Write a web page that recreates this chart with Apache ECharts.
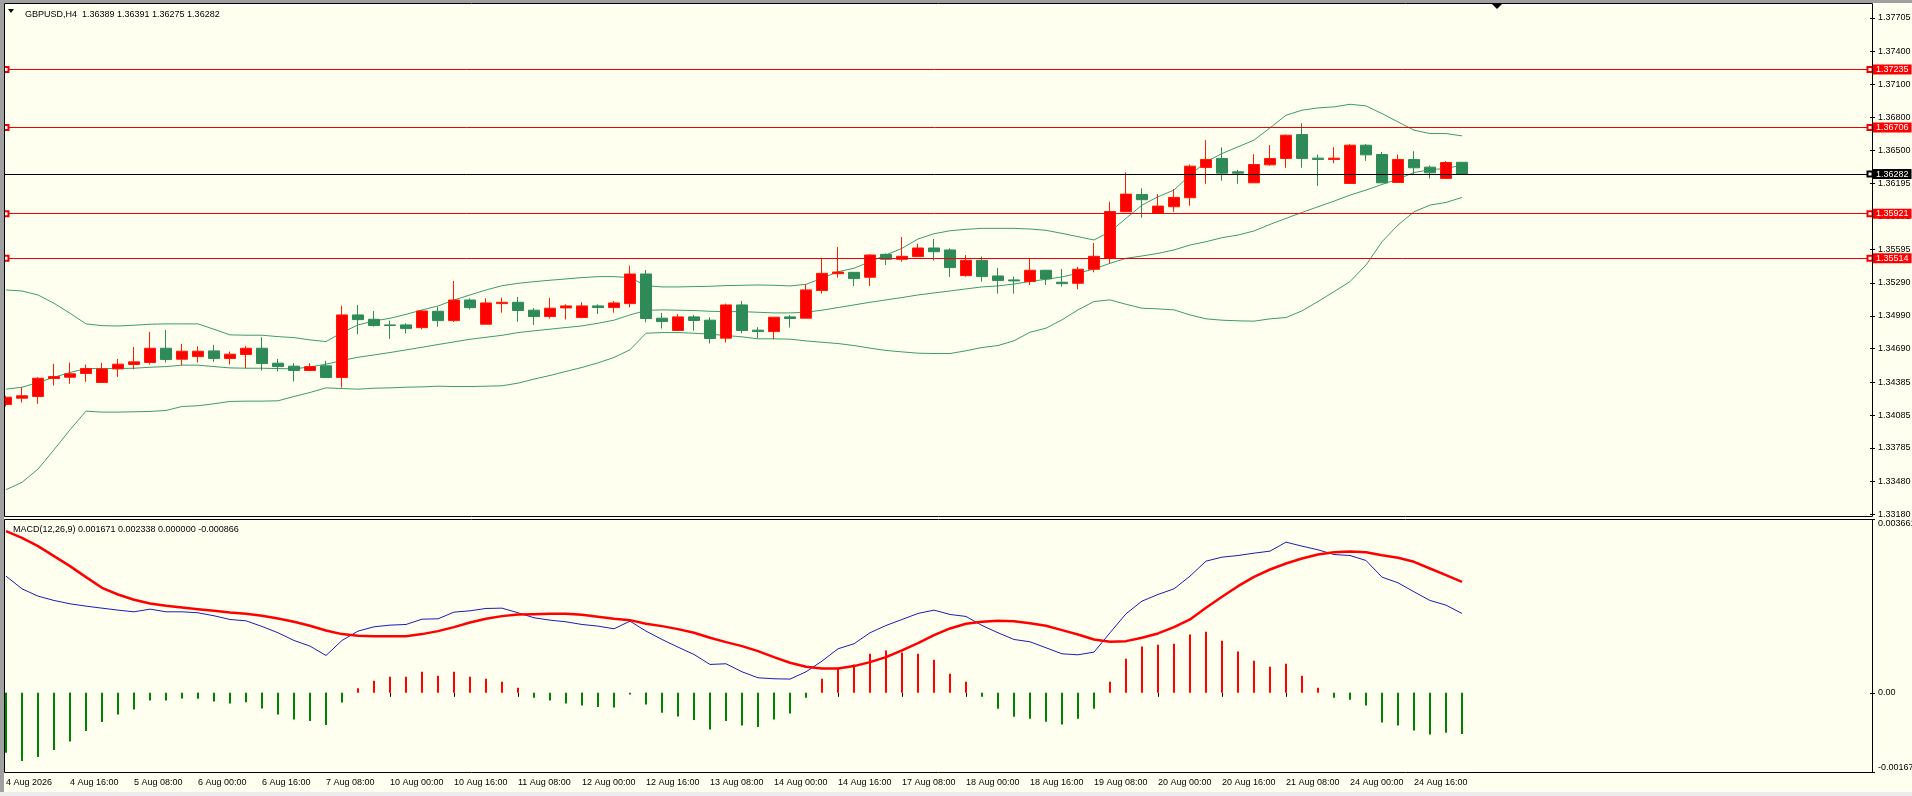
<!DOCTYPE html>
<html>
<head>
<meta charset="utf-8">
<title>GBPUSD,H4</title>
<script src="https://cdn.jsdelivr.net/npm/echarts@6/dist/echarts.min.js"></script>
<style>
html,body{margin:0;padding:0;background:#FFFFF0;}
#main{width:1912px;height:796px;}
</style>
</head>
<body>
<div id="main"></div>
<script>
// bar times (H4)
var days = ['4 Aug','5 Aug','6 Aug','7 Aug','10 Aug','11 Aug','12 Aug','13 Aug','14 Aug',
            '17 Aug','18 Aug','19 Aug','20 Aug','21 Aug','24 Aug','25 Aug'];
var hours = ['00:00','04:00','08:00','12:00','16:00','20:00'];
var lastDayBars = 2;
var firstLabel = '4 Aug 2026';
var emptySlots = 25;   // chart shift on the right

var opens = [1.34182,1.34239,1.34254,1.34418,1.34430,1.34464,1.34382,1.34506,1.34546,1.34564,
1.34694,1.34594,1.34618,1.34670,1.34600,1.34637,1.34694,1.34558,1.34531,1.34491,
1.34534,1.34427,1.34998,1.34958,1.34907,1.34907,1.34882,1.35031,1.34946,1.35134,
1.34913,1.35101,1.35113,1.35041,1.34983,1.35062,1.34974,1.35080,1.35065,1.35101,
1.35371,1.34968,1.34856,1.34980,1.34950,1.34786,1.35089,1.34859,1.34846,1.34980,
1.34968,1.35220,1.35374,1.35386,1.35341,1.35550,1.35505,1.35529,1.35608,1.35590,
1.35356,1.35496,1.35353,1.35317,1.35302,1.35405,1.35296,1.35286,1.35414,1.35514,
1.35938,1.36096,1.35926,1.35984,1.36066,1.36342,1.36424,1.36302,1.36202,1.36366,
1.36424,1.36642,1.36427,1.36415,1.36196,1.36545,1.36460,1.36205,1.36415,1.36345,
1.36242,1.36389];
var highs = [1.34261,1.34339,1.34430,1.34552,1.34564,1.34546,1.34561,1.34597,1.34706,1.34843,
1.34861,1.34734,1.34712,1.34725,1.34664,1.34716,1.34794,1.34597,1.34558,1.34558,
1.34579,1.35082,1.35089,1.35034,1.34946,1.34922,1.35043,1.35070,1.35307,1.35149,
1.35149,1.35156,1.35162,1.35059,1.35153,1.35095,1.35113,1.35095,1.35126,1.35447,
1.35408,1.35016,1.35004,1.34998,1.34977,1.35101,1.35126,1.34886,1.34977,1.34998,
1.35277,1.35514,1.35617,1.35386,1.35550,1.35559,1.35708,1.35647,1.35690,1.35605,
1.35544,1.35529,1.35426,1.35347,1.35514,1.35408,1.35417,1.35435,1.35653,1.36029,
1.36296,1.36151,1.36099,1.36145,1.36369,1.36591,1.36524,1.36321,1.36463,1.36545,
1.36642,1.36745,1.36460,1.36527,1.36554,1.36557,1.36484,1.36460,1.36490,1.36360,
1.36399,1.36391];
var lows = [1.34163,1.34200,1.34188,1.34354,1.34370,1.34388,1.34382,1.34433,1.34503,1.34546,
1.34564,1.34540,1.34564,1.34570,1.34546,1.34512,1.34491,1.34482,1.34391,1.34485,
1.34427,1.34336,1.34822,1.34891,1.34779,1.34828,1.34867,1.34891,1.34934,1.35049,
1.34913,1.35019,1.34937,1.34907,1.34965,1.34956,1.34974,1.35007,1.35019,1.35068,
1.34931,1.34874,1.34856,1.34853,1.34737,1.34746,1.34831,1.34786,1.34777,1.34883,
1.34968,1.35192,1.35338,1.35262,1.35262,1.35453,1.35483,1.35529,1.35493,1.35344,
1.35347,1.35301,1.35192,1.35192,1.35271,1.35271,1.35256,1.35232,1.35386,1.35468,
1.35938,1.35884,1.35926,1.35938,1.35993,1.36193,1.36221,1.36193,1.36202,1.36357,
1.36339,1.36339,1.36175,1.36381,1.36196,1.36402,1.36202,1.36205,1.36284,1.36242,
1.36242,1.36275];
var closes = [1.34248,1.34261,1.34421,1.34436,1.34461,1.34509,1.34506,1.34549,1.34570,1.34694,
1.34591,1.34667,1.34667,1.34600,1.34640,1.34694,1.34555,1.34527,1.34491,1.34527,
1.34427,1.34998,1.34955,1.34901,1.34901,1.34873,1.35034,1.34946,1.35134,1.35064,
1.35107,1.35113,1.35038,1.34983,1.35059,1.35080,1.35080,1.35065,1.35107,1.35371,
1.34965,1.34937,1.34980,1.34947,1.34783,1.35089,1.34856,1.34846,1.34977,1.34965,
1.35226,1.35377,1.35389,1.35329,1.35544,1.35505,1.35532,1.35608,1.35574,1.35429,
1.35496,1.35347,1.35311,1.35308,1.35405,1.35326,1.35283,1.35414,1.35532,1.35941,
1.36099,1.36048,1.35990,1.36069,1.36354,1.36415,1.36290,1.36290,1.36369,1.36424,
1.36636,1.36424,1.36415,1.36427,1.36545,1.36457,1.36202,1.36415,1.36339,1.36293,
1.36387,1.36282];

// Bollinger bands as drawn
var bbUpper = [1.35225,1.35216,1.35180,1.35104,1.35013,1.34916,1.34900,1.34897,1.34904,1.34913,
1.34916,1.34916,1.34916,1.34867,1.34816,1.34813,1.34813,1.34800,1.34791,1.34770,
1.34755,1.34837,1.34907,1.34943,1.34967,1.35003,1.35043,1.35079,1.35134,1.35180,
1.35225,1.35264,1.35286,1.35301,1.35314,1.35326,1.35338,1.35347,1.35347,1.35338,
1.35265,1.35253,1.35253,1.35256,1.35259,1.35265,1.35268,1.35271,1.35268,1.35262,
1.35277,1.35332,1.35392,1.35423,1.35483,1.35544,1.35605,1.35690,1.35738,1.35765,
1.35778,1.35787,1.35787,1.35787,1.35781,1.35769,1.35741,1.35711,1.35681,1.35756,
1.35878,1.35999,1.36075,1.36136,1.36272,1.36393,1.36469,1.36530,1.36591,1.36703,
1.36818,1.36864,1.36885,1.36894,1.36918,1.36903,1.36833,1.36757,1.36682,1.36651,
1.36651,1.36630];
var bbMiddle = [1.34321,1.34339,1.34382,1.34430,1.34473,1.34509,1.34509,1.34509,1.34512,1.34521,
1.34527,1.34540,1.34540,1.34527,1.34515,1.34512,1.34512,1.34509,1.34506,1.34524,
1.34549,1.34582,1.34612,1.34633,1.34655,1.34679,1.34703,1.34728,1.34752,1.34776,
1.34794,1.34812,1.34837,1.34853,1.34868,1.34883,1.34898,1.34922,1.34950,1.34998,
1.35038,1.35044,1.35041,1.35038,1.35031,1.35028,1.35028,1.35022,1.35016,1.35016,
1.35022,1.35041,1.35065,1.35089,1.35113,1.35135,1.35156,1.35180,1.35198,1.35216,
1.35235,1.35253,1.35262,1.35280,1.35302,1.35323,1.35344,1.35377,1.35417,1.35468,
1.35514,1.35535,1.35559,1.35590,1.35635,1.35665,1.35702,1.35726,1.35763,1.35823,
1.35878,1.35932,1.35984,1.36035,1.36090,1.36136,1.36187,1.36236,1.36296,1.36321,
1.36333,1.36363];
var bbLower = [1.33405,1.33472,1.33593,1.33769,1.33951,1.34121,1.34112,1.34112,1.34115,1.34118,
1.34127,1.34163,1.34170,1.34188,1.34209,1.34212,1.34212,1.34215,1.34254,1.34291,
1.34333,1.34327,1.34321,1.34330,1.34333,1.34339,1.34342,1.34348,1.34345,1.34345,
1.34348,1.34352,1.34376,1.34413,1.34446,1.34483,1.34519,1.34561,1.34610,1.34680,
1.34831,1.34837,1.34837,1.34831,1.34822,1.34810,1.34798,1.34780,1.34780,1.34777,
1.34761,1.34749,1.34737,1.34719,1.34695,1.34674,1.34661,1.34649,1.34646,1.34646,
1.34671,1.34701,1.34719,1.34762,1.34840,1.34877,1.34953,1.35044,1.35120,1.35135,
1.35095,1.35059,1.35053,1.35044,1.34998,1.34962,1.34950,1.34944,1.34941,1.34962,
1.34974,1.35035,1.35120,1.35210,1.35302,1.35453,1.35665,1.35817,1.35938,1.35999,
1.36023,1.36069];

// MACD(12,26,9) window
var macdMain = [0.002457,0.002190,0.002036,0.001945,0.001874,0.001825,0.001783,0.001741,0.001706,0.001762,
0.001706,0.001706,0.001685,0.001622,0.001544,0.001516,0.001397,0.001264,0.001102,0.000983,
0.000786,0.001102,0.001299,0.001390,0.001425,0.001439,0.001551,0.001558,0.001699,0.001727,
0.001776,0.001783,0.001685,0.001580,0.001530,0.001495,0.001439,0.001404,0.001348,0.001509,
0.001299,0.001123,0.000962,0.000807,0.000597,0.000611,0.000442,0.000316,0.000295,0.000288,
0.000442,0.000667,0.000927,0.001032,0.001264,0.001418,0.001544,0.001671,0.001741,0.001650,
0.001608,0.001418,0.001264,0.001123,0.001074,0.000948,0.000821,0.000800,0.000856,0.001264,
0.001664,0.001931,0.002071,0.002190,0.002457,0.002773,0.002857,0.002892,0.002941,0.002984,
0.003173,0.003089,0.003012,0.002913,0.002892,0.002787,0.002436,0.002317,0.002127,0.001945,
0.001846,0.001671];
var macdSignal = [0.003405,0.003264,0.003089,0.002878,0.002668,0.002436,0.002211,0.002071,0.001959,0.001881,
0.001832,0.001797,0.001762,0.001727,0.001692,0.001664,0.001622,0.001565,0.001495,0.001411,
0.001313,0.001236,0.001200,0.001193,0.001193,0.001193,0.001236,0.001299,0.001383,0.001481,
0.001558,0.001615,0.001650,0.001657,0.001664,0.001664,0.001643,0.001601,0.001558,0.001530,
0.001453,0.001404,0.001341,0.001264,0.001158,0.001067,0.000983,0.000878,0.000751,0.000632,
0.000548,0.000512,0.000512,0.000562,0.000646,0.000751,0.000892,0.001046,0.001214,0.001355,
0.001453,0.001495,0.001516,0.001509,0.001467,0.001411,0.001320,0.001229,0.001123,0.001074,
0.001088,0.001158,0.001250,0.001383,0.001544,0.001790,0.002022,0.002246,0.002443,0.002597,
0.002724,0.002829,0.002913,0.002962,0.002976,0.002962,0.002899,0.002843,0.002759,0.002618,
0.002478,0.002338];
var macdHist = [-0.001264,-0.001439,-0.001355,-0.001207,-0.001025,-0.000807,-0.000618,-0.000456,-0.000351,-0.000161,
-0.000161,-0.000119,-0.000126,-0.000183,-0.000225,-0.000197,-0.000330,-0.000456,-0.000562,-0.000597,
-0.000681,-0.000204,0.000098,0.000253,0.000337,0.000337,0.000442,0.000358,0.000442,0.000337,
0.000295,0.000232,0.000105,-0.000105,-0.000161,-0.000225,-0.000267,-0.000302,-0.000309,-0.000035,
-0.000246,-0.000421,-0.000498,-0.000576,-0.000772,-0.000597,-0.000688,-0.000723,-0.000562,-0.000435,
-0.000105,0.000295,0.000527,0.000597,0.000821,0.000892,0.000849,0.000821,0.000695,0.000400,
0.000232,-0.000084,-0.000337,-0.000505,-0.000548,-0.000611,-0.000667,-0.000548,-0.000337,0.000232,
0.000716,0.000976,0.001011,0.001032,0.001229,0.001285,0.001095,0.000870,0.000674,0.000548,
0.000611,0.000358,0.000105,-0.000105,-0.000147,-0.000267,-0.000625,-0.000688,-0.000793,-0.000878,
-0.000842,-0.000866];

var levels = [1.37235, 1.36706, 1.35921, 1.35514];
var priceTicks = [1.37705,1.37400,1.37100,1.36800,1.36500,1.36195,1.35895,1.35595,
                  1.35290,1.34990,1.34690,1.34385,1.34085,1.33785,1.33480,1.33180];
var priceMin = 1.33165, priceMax = 1.37832;
var macdTicks = [-0.00167, 0, 0.003661];
var macdTickText = ['-0.00167', '0.00', '0.003661'];
var macdMin = -0.00169, macdMax = 0.003661;

(function(){

	var chart = echarts.init(document.getElementById('main'));
	var FONT = 'Liberation Sans, Arial, sans-serif';

	var cats = [];
	days.forEach(function(d, k){
		var n = (k === days.length - 1) ? lastDayBars : hours.length;
		for (var h = 0; h < n; h++) cats.push(d + ' ' + hours[h]);
	});
	var nBars = cats.length;
	for (var e = 0; e < emptySlots; e++) cats.push('');

	var candles = opens.map(function(o, i){
		return [o, closes[i], lows[i], highs[i]];
	});
	var last = nBars - 1;
	var current = closes[last];

	var lineLabel = function(bg){
		return {
			show: true, position: 'end', distance: 3,
			formatter: function(p){ return Number(p.value).toFixed(5); },
			color: '#fff', backgroundColor: bg,
			padding: [1, 3, 0, 3], fontSize: 9, fontFamily: FONT
		};
	};

	var markData = levels.map(function(v){
		return { yAxis: v, lineStyle: {color: '#F00000', width: 1, type: 'solid'}, label: lineLabel('#FF0000') };
	});
	markData.push({ yAxis: current, symbol: 'none', lineStyle: {color: '#000', width: 1, type: 'solid'}, label: lineLabel('#000000') });

	var bandStyle = {color: '#3E9B6C', width: 1};

	option = {
		animation: false,
		backgroundColor: '#FFFFF0',
		textStyle: {fontFamily: FONT},
		title: [
			{
				text: 'GBPUSD,H4  ' + [opens[last], highs[last], lows[last], closes[last]].map(function(v){ return v.toFixed(5); }).join(' '),
				left: 20, top: 5,
				textStyle: {fontSize: 9, fontWeight: 'normal', color: '#000', fontFamily: FONT}
			},
			{
				text: 'MACD(12,26,9) ' + macdMain[last].toFixed(6) + ' ' + macdSignal[last].toFixed(6) + ' 0.000000 ' + macdHist[last].toFixed(6),
				left: 8, top: 520,
				textStyle: {fontSize: 9, fontWeight: 'normal', color: '#000', fontFamily: FONT}
			}
		],
		grid: [
			{left: -2, top: 4, width: 1872, height: 512, containLabel: false, outerBoundsMode: 'none'},
			{left: -2, top: 519, width: 1872, height: 254, containLabel: false, outerBoundsMode: 'none'}
		],
		xAxis: [
			{
				gridIndex: 0, type: 'category', data: cats, boundaryGap: true,
				axisLine: {show: false}, axisTick: {show: false}, axisLabel: {show: false}, splitLine: {show: false}
			},
			{
				gridIndex: 1, type: 'category', data: cats, boundaryGap: true,
				axisLine: {show: false},
				axisTick: {
					show: true, alignWithLabel: true, length: 4,
					interval: function(i){ return i % 4 === 0 && i < nBars; },
					lineStyle: {color: '#000'}
				},
				axisLabel: {
					interval: function(i){ return i % 4 === 0 && i < nBars; },
					formatter: function(v, i){ return i === 0 ? firstLabel : v; },
					align: 'left', margin: 5, fontSize: 9, color: '#000', fontFamily: FONT
				},
				splitLine: {show: false}
			}
		],
		yAxis: [
			{
				gridIndex: 0, type: 'value', position: 'right', min: priceMin, max: priceMax,
				splitLine: {show: false}, axisLine: {show: false},
				axisTick: {show: true, length: 5, customValues: priceTicks, lineStyle: {color: '#000'}},
				axisLabel: {
					customValues: priceTicks, margin: 8, fontSize: 9, color: '#000', fontFamily: FONT,
					formatter: function(v){ return v.toFixed(5); }
				}
			},
			{
				gridIndex: 1, type: 'value', position: 'right', min: macdMin, max: macdMax,
				splitLine: {show: false}, axisLine: {show: false},
				axisTick: {show: true, length: 5, customValues: macdTicks, lineStyle: {color: '#000'}},
				axisLabel: {
					customValues: macdTicks, margin: 8, fontSize: 9, color: '#000', fontFamily: FONT,
					verticalAlignMaxLabel: 'top', verticalAlignMinLabel: 'bottom',
					formatter: function(v){
						for (var k = 0; k < macdTicks.length; k++) {
							if (Math.abs(macdTicks[k] - v) < 1e-9) return macdTickText[k];
						}
						return '';
					}
				}
			}
		],
		series: [
			{
				name: 'GBPUSD', type: 'candlestick', xAxisIndex: 0, yAxisIndex: 0,
				data: candles, barWidth: 11,
				itemStyle: {
					color: '#FF0000', color0: '#2E8B57',
					borderColor: '#FF1A00', borderColor0: '#2E8B57', borderWidth: 1
				},
				markLine: {
					silent: true, animation: false, precision: 5,
					symbol: ['none', 'emptyRect'], symbolSize: 5,
					data: markData
				},
				markPoint: {
					silent: true, animation: false,
					symbol: 'emptyRect', symbolSize: 5,
					itemStyle: {color: '#F00000', borderColor: '#F00000'},
					label: {show: false},
					data: levels.map(function(v){ return {coord: [0, v]}; })
				}
			},
			{name: 'BB upper', type: 'line', xAxisIndex: 0, yAxisIndex: 0, data: bbUpper, symbol: 'none', lineStyle: bandStyle, itemStyle: {color: bandStyle.color}, z: 1},
			{name: 'BB middle', type: 'line', xAxisIndex: 0, yAxisIndex: 0, data: bbMiddle, symbol: 'none', lineStyle: bandStyle, itemStyle: {color: bandStyle.color}, z: 1},
			{name: 'BB lower', type: 'line', xAxisIndex: 0, yAxisIndex: 0, data: bbLower, symbol: 'none', lineStyle: bandStyle, itemStyle: {color: bandStyle.color}, z: 1},
			{
				name: 'MACD hist', type: 'bar', xAxisIndex: 1, yAxisIndex: 1,
				data: macdHist, barWidth: 2,
				itemStyle: {color: function(p){ return p.value >= 0 ? '#FF0000' : '#008000'; }}
			},
			{
				name: 'MACD', type: 'line', xAxisIndex: 1, yAxisIndex: 1, data: macdMain,
				symbol: 'none', lineStyle: {color: '#1C1CB8', width: 1}, itemStyle: {color: '#1C1CB8'}
			},
			{
				name: 'Signal', type: 'line', xAxisIndex: 1, yAxisIndex: 1, data: macdSignal,
				symbol: 'none', lineStyle: {color: '#FF0000', width: 2.5}, itemStyle: {color: '#FF0000'}
			}
		],
		graphic: [
			{type: 'rect', z: 100, silent: true, shape: {x: 0, y: 0, width: 4, height: 796}, style: {fill: '#A0A0A0'}},
			{type: 'rect', z: 100, silent: true, shape: {x: 0, y: 0, width: 1912, height: 3}, style: {fill: '#A0A0A0'}},
			{type: 'rect', z: 100, silent: true, shape: {x: 0, y: 792, width: 1912, height: 4}, style: {fill: '#ECECEC'}},
			{type: 'rect', z: 101, silent: true, shape: {x: 4.5, y: 3.5, width: 1868, height: 513}, style: {fill: 'none', stroke: '#000', lineWidth: 1}},
			{type: 'rect', z: 101, silent: true, shape: {x: 4.5, y: 519.5, width: 1868, height: 253}, style: {fill: 'none', stroke: '#000', lineWidth: 1}},
			{type: 'polygon', z: 101, silent: true, shape: {points: [[8, 9], [14, 9], [11, 13]]}, style: {fill: '#000'}},
			{type: 'polygon', z: 101, silent: true, shape: {points: [[1492, 4], [1502, 4], [1497, 9]]}, style: {fill: '#000'}}
		]
	};

	chart.setOption(option);
})();
</script>
</body>
</html>
